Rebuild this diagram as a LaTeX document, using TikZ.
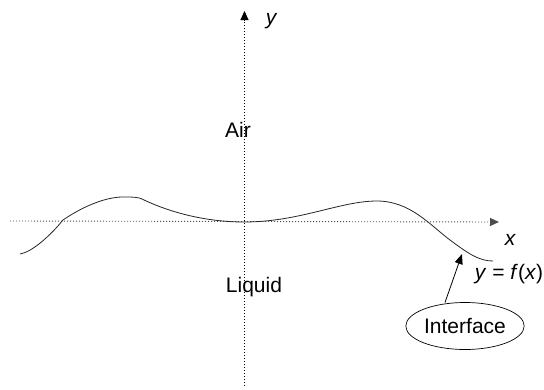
\documentclass[tikz,border=0pt]{standalone}
\usepackage{fontspec}
\setmainfont{Liberation Sans}
\usetikzlibrary{arrows.meta,shapes.geometric}
\tikzset{
  axis/.style={line width=0.9pt, dash pattern=on 1pt off 2pt, -{Triangle[length=9pt,width=8pt]}},
  lbl/.style={font=\fontsize{21}{24}\selectfont, inner sep=0pt},
  ilbl/.style={font=\fontsize{21}{24}\selectfont\itshape, inner sep=0pt},
  curve/.style={line width=0.8pt, black!85},
}
\begin{document}
\begin{tikzpicture}[x=1pt,y=-1pt]
\useasboundingbox (0,0) rectangle (544,389);
\coordinate (ybot) at (244.5,386);
\coordinate (ytop) at (244.5,11);
\coordinate (xl) at (10,221);
\coordinate (xr) at (499,222);
\draw[axis, black] (ybot) -- (ytop);
\draw[axis, black!70] (xl) -- (xr);
\node[ilbl] (ylab) at (271,21) {y};
\node[ilbl] (xlab) at (510,240) {x};
\node[lbl] (air) at (238,130) {Air};
\node[lbl] (liquid) at (254,287) {Liquid};
\node[lbl] (fx) at (509,274) {\textit{y} = \textit{f}(\textit{x})};
\draw[curve] (20,254) .. controls (32,252) and (50,236) .. (63,220)
  .. controls (82,207) and (105,197) .. (123,197)
  .. controls (132,197) and (138,197) .. (142,199)
  .. controls (175,215) and (212,222) .. (244,222)
  .. controls (300,222) and (340,201) .. (377,201)
  .. controls (410,201) and (430,225) .. (450,240)
  .. controls (470,255) and (480,261) .. (493,261);
\node[lbl, draw, ellipse, line width=0.7pt, inner sep=1pt, minimum width=104pt, minimum height=47pt] (iface) at (465,326) {Interface};
\coordinate (tip) at (462,254);
\coordinate (tail) at (445,302.5);
\draw[line width=0.8pt, -{Triangle[length=10pt,width=8pt]}] (tail) -- (tip);
\end{tikzpicture}
\end{document}
